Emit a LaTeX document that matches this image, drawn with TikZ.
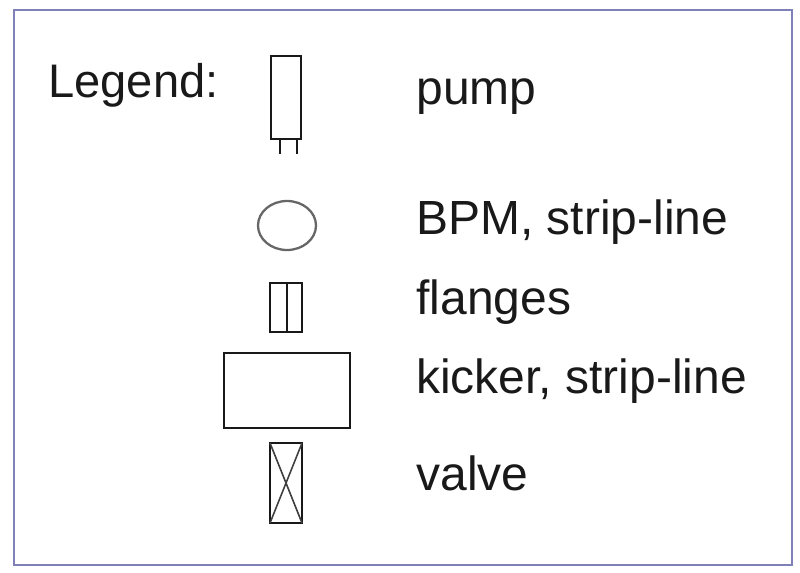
\documentclass[tikz,border=0pt]{standalone}
\usepackage{fontspec}
\setmainfont{Liberation Sans}
\usetikzlibrary{shapes.geometric}
\definecolor{framecol}{RGB}{128,128,184}
\tikzset{
	symbol/.style={draw=black!90, line width=1.3pt, inner sep=0pt, outer sep=0pt},
	lbl/.style={anchor=base west, inner sep=0pt, text=black!90, font=\fontsize{27.3}{30}\selectfont},
}
\begin{document}
\begin{tikzpicture}[x=0.02cm,y=-0.02cm]

	\useasboundingbox (0,0) rectangle (800,572);
	\draw[framecol, line width=1.3pt] (14,10) rectangle (792,565);

	\node[lbl, font=\fontsize{26.8}{30}\selectfont] (legend) at (48,97) {Legend:};
	\node[lbl] (pump label) at (416,104.5) {pump};
	\node[lbl] (bpm label) at (416,234.5) {BPM, strip-line};
	\node[lbl] (flanges label) at (416,314) {flanges};
	\node[lbl] (kicker label) at (416,393.5) {kicker, strip-line};
	\node[lbl] (valve label) at (416,490.5) {valve};

	% pump with its two legs
	\node[symbol, minimum width=30*0.02cm, minimum height=83*0.02cm] (pump) at (286,97.5) {};
	\draw[symbol] (280,139) -- (280,154);
	\draw[symbol] (297,139) -- (297,154);

	\node[symbol, ellipse, draw=black!60, minimum width=58*0.02cm, minimum height=49*0.02cm] (bpm) at (287,225.5) {};

	\node[symbol, minimum width=32*0.02cm, minimum height=49*0.02cm] (flanges) at (286,307.5) {};
	\draw[symbol] (flanges.north) ++(1,0) -- ++(0,49);

	\node[symbol, minimum width=126*0.02cm, minimum height=75*0.02cm] (kicker) at (287,390.5) {};

	\node[symbol, minimum width=32*0.02cm, minimum height=80*0.02cm] (valve) at (286,483) {};
	\draw[symbol, line width=0.9pt, draw=black!75] (valve.north west) -- (valve.south east);
	\draw[symbol, line width=0.9pt, draw=black!75] (valve.north east) -- (valve.south west);

\end{tikzpicture}
\end{document}
